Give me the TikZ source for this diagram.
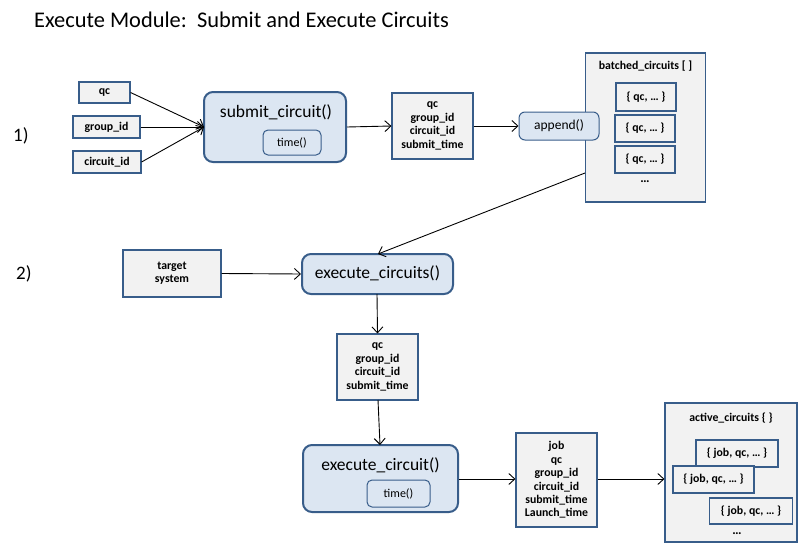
\documentclass[tikz,border=0pt]{standalone}
\usepackage{fontspec}
\setmainfont{Carlito}
\usetikzlibrary{arrows.meta}
\definecolor{boxblue}{RGB}{56,93,138}
\definecolor{boxgray}{RGB}{242,242,242}
\definecolor{lightblue}{RGB}{220,230,242}
\begin{document}
\begin{tikzpicture}[x=1pt,y=-1pt,
 gbox/.style={draw=boxblue,fill=boxgray,line width=1.1pt,inner sep=0pt,align=center,font=\fontsize{11.8}{13.4}\selectfont\bfseries},
 fbox/.style={draw=boxblue,fill=lightblue,line width=2pt,rounded corners=9pt,inner sep=0pt},
 tbox/.style={draw=boxblue,fill=lightblue,line width=1pt,rounded corners=5pt,inner sep=0pt,align=center,font=\fontsize{12}{14}\selectfont},
 ftext/.style={inner sep=0pt,font=\fontsize{17.5}{20}\selectfont},
 arr/.style={-{Straight Barb[length=6pt,width=11pt]},line width=0.9pt},
]
\useasboundingbox (0,0) rectangle (800,554);

\node[anchor=west,inner sep=0pt,font=\fontsize{22.4}{26}\selectfont] (title) at (34,20) {Execute Module:\ \ Submit and Execute Circuits};
\node[anchor=west,inner sep=0pt,font=\fontsize{19}{22}\selectfont] (s1) at (13,136) {1)};
\node[anchor=west,inner sep=0pt,font=\fontsize{19}{22}\selectfont] (s2) at (16,274) {2)};

% step 1
\node[gbox,minimum width=51pt,minimum height=21pt] (qc) at (104.5,92.5) {qc};
\node[gbox,minimum width=67pt,minimum height=22pt] (gid) at (106.5,127) {group\_id};
\node[gbox,minimum width=68pt,minimum height=22pt] (cid) at (107,162) {circuit\_id};

\node[fbox,minimum width=142pt,minimum height=70pt] (submit) at (275,127) {};
\node[ftext] (submitT) at (276,112) {submit\_circuit()};
\node[tbox,minimum width=58pt,minimum height=25pt] (time1) at (292,142.5) {time()};
\coordinate (sin) at (204,127);

\node[gbox,minimum width=81pt,minimum height=66pt] (info1) at (432.5,126) {qc\\group\_id\\circuit\_id\\submit\_time};

\node[gbox,minimum width=120pt,minimum height=149pt] (batched) at (645.5,127.5) {};
\node[inner sep=0pt,font=\fontsize{11.8}{13.4}\selectfont\bfseries] (batchedT) at (645.5,66) {batched\_circuits [ ]};
\node[gbox,minimum width=60pt,minimum height=28pt] (b1) at (646,97) {\{ qc, … \}};
\node[gbox,minimum width=60pt,minimum height=27pt] (b2) at (645,128.5) {\{ qc, … \}};
\node[gbox,minimum width=60pt,minimum height=27pt] (b3) at (645,159.5) {\{ qc, … \}};
\node[inner sep=0pt,font=\fontsize{13}{15}\selectfont\bfseries] (bdots) at (645,182) {…};
\coordinate (bout) at (585,173);

\node[tbox,rounded corners=6pt,minimum width=80pt,minimum height=28pt,font=\fontsize{13.5}{15}\selectfont] (append) at (559,126) {append()};

\draw[arr] (qc.east) -- (sin);
\draw[arr] (gid.east) -- (sin);
\draw[arr] (cid.east) -- (sin);
\draw[arr] (submit.east) -- (info1.west);
\draw[arr] (info1.east) -- (append.west);

% step 2
\node[gbox,minimum width=98pt,minimum height=47pt] (target) at (172,273.5) {target\\system};
\node[fbox,minimum width=151pt,minimum height=40pt] (execs) at (377.5,274) {};
\node[ftext] (execsT) at (377.5,273) {execute\_circuits()};
\coordinate (ein) at (378,254);
\draw[arr] (bout) -- (ein);
\draw[arr] (target.east) -- (execs.west);

\node[gbox,minimum width=81pt,minimum height=66pt] (info2) at (377.5,367) {qc\\group\_id\\circuit\_id\\submit\_time};
\draw[arr] (377,294) -- (info2.north);

\node[fbox,minimum width=155pt,minimum height=67pt] (execc) at (380.5,478.5) {};
\node[ftext] (execcT) at (380.5,465) {execute\_circuit()};
\node[tbox,minimum width=63pt,minimum height=27pt] (time2) at (398.5,493.5) {time()};
\draw[arr] (378,400) -- (380,445);

\node[gbox,minimum width=81pt,minimum height=94pt] (info3) at (556.5,480) {job\\qc\\group\_id\\circuit\_id\\submit\_time\\Launch\_time};
\draw[arr] (execc.east |- 0,479) -- (info3.west |- 0,479);

\node[gbox,minimum width=132pt,minimum height=139pt] (active) at (731,472.5) {};
\node[inner sep=0pt,font=\fontsize{11.8}{13.4}\selectfont\bfseries] (activeT) at (731,418) {active\_circuits \{ \}};
\node[gbox,minimum width=82pt,minimum height=27pt] (a1) at (737,453.5) {\{ job, qc, … \}};
\node[gbox,minimum width=81pt,minimum height=27pt] (a2) at (713.5,479.5) {\{ job, qc, … \}};
\node[gbox,minimum width=83pt,minimum height=26pt] (a3) at (751,511) {\{ job, qc, … \}};
\node[inner sep=0pt,font=\fontsize{13}{15}\selectfont\bfseries] (adots) at (737,534) {…};
\draw[arr] (info3.east |- 0,479) -- (active.west |- 0,479);
\end{tikzpicture}
\end{document}
